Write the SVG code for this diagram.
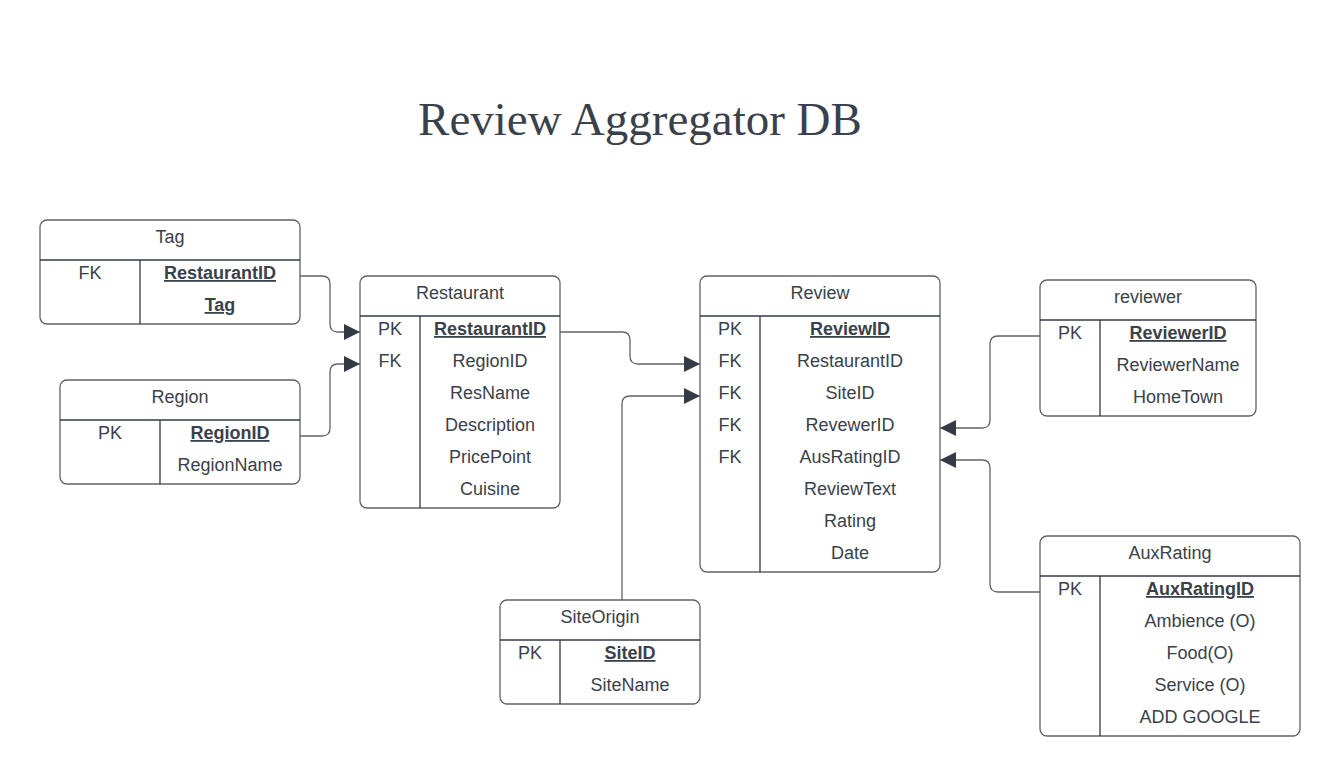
<svg xmlns="http://www.w3.org/2000/svg" width="1340" height="776" viewBox="0 0 1340 776">
<defs>
<style>
.box{fill:#fff;stroke:#5f6368;stroke-width:1.3}
.ln{stroke:#333a45;stroke-width:1.3;fill:none}
.t{font-family:"Liberation Sans",Arial,sans-serif;font-size:18px;fill:#3a414a;text-anchor:middle}
.b{font-weight:bold;text-decoration:underline}
.con{fill:none;stroke:#5f6368;stroke-width:1.3}
.title{font-family:"Liberation Serif","Times New Roman",serif;font-size:47px;fill:#3a414a;text-anchor:middle}
</style>
<marker id="arr" markerUnits="userSpaceOnUse" markerWidth="16" markerHeight="16" viewBox="0 0 16 16" refX="16" refY="8" orient="auto">
<path d="M0,0 L16,8 L0,16 Z" fill="#333a45"/>
</marker>
</defs>
<rect width="1340" height="776" fill="#fff"/>
<text class="title" x="640" y="135">Review Aggregator DB</text>

<g id="connectors">
<path class="con" marker-end="url(#arr)" d="M300,276 H322 Q330,276 330,284 V324 Q330,332 338,332 H360"/>
<path class="con" marker-end="url(#arr)" d="M300,436 H322 Q330,436 330,428 V372 Q330,364 338,364 H360"/>
<path class="con" marker-end="url(#arr)" d="M560,332 H622 Q630,332 630,340 V356 Q630,364 638,364 H700"/>
<path class="con" marker-end="url(#arr)" d="M622,600 V404 Q622,396 630,396 H700"/>
<path class="con" marker-end="url(#arr)" d="M1040,336 H998 Q990,336 990,344 V420 Q990,428 982,428 H940"/>
<path class="con" marker-end="url(#arr)" d="M1040,592 H998 Q990,592 990,584 V468 Q990,460 982,460 H940"/>
</g>

<g id="tag">
<rect class="box" x="40" y="220" width="260" height="104" rx="7"/>
<path class="ln" d="M40,260 H300 M140,260 V324"/>
<text class="t" x="170" y="243">Tag</text>
<text class="t" x="90" y="279">FK</text>
<text class="t b" x="220" y="279">RestaurantID</text>
<text class="t b" x="220" y="311">Tag</text>
</g>

<g id="region">
<rect class="box" x="60" y="380" width="240" height="104" rx="7"/>
<path class="ln" d="M60,420 H300 M160,420 V484"/>
<text class="t" x="180" y="403">Region</text>
<text class="t" x="110" y="439">PK</text>
<text class="t b" x="230" y="439">RegionID</text>
<text class="t" x="230" y="471">RegionName</text>
</g>

<g id="restaurant">
<rect class="box" x="360" y="276" width="200" height="232" rx="7"/>
<path class="ln" d="M360,316 H560 M420,316 V508"/>
<text class="t" x="460" y="299">Restaurant</text>
<text class="t" x="390" y="335">PK</text>
<text class="t" x="390" y="367">FK</text>
<text class="t b" x="490" y="335">RestaurantID</text>
<text class="t" x="490" y="367">RegionID</text>
<text class="t" x="490" y="399">ResName</text>
<text class="t" x="490" y="431">Description</text>
<text class="t" x="490" y="463">PricePoint</text>
<text class="t" x="490" y="495">Cuisine</text>
</g>

<g id="review">
<rect class="box" x="700" y="276" width="240" height="296" rx="7"/>
<path class="ln" d="M700,316 H940 M760,316 V572"/>
<text class="t" x="820" y="299">Review</text>
<text class="t" x="730" y="335">PK</text>
<text class="t" x="730" y="367">FK</text>
<text class="t" x="730" y="399">FK</text>
<text class="t" x="730" y="431">FK</text>
<text class="t" x="730" y="463">FK</text>
<text class="t b" x="850" y="335">ReviewID</text>
<text class="t" x="850" y="367">RestaurantID</text>
<text class="t" x="850" y="399">SiteID</text>
<text class="t" x="850" y="431">RevewerID</text>
<text class="t" x="850" y="463">AusRatingID</text>
<text class="t" x="850" y="495">ReviewText</text>
<text class="t" x="850" y="527">Rating</text>
<text class="t" x="850" y="559">Date</text>
</g>

<g id="reviewer">
<rect class="box" x="1040" y="280" width="216" height="136" rx="7"/>
<path class="ln" d="M1040,320 H1256 M1100,320 V416"/>
<text class="t" x="1148" y="303">reviewer</text>
<text class="t" x="1070" y="339">PK</text>
<text class="t b" x="1178" y="339">ReviewerID</text>
<text class="t" x="1178" y="371">ReviewerName</text>
<text class="t" x="1178" y="403">HomeTown</text>
</g>

<g id="siteorigin">
<rect class="box" x="500" y="600" width="200" height="104" rx="7"/>
<path class="ln" d="M500,640 H700 M560,640 V704"/>
<text class="t" x="600" y="623">SiteOrigin</text>
<text class="t" x="530" y="659">PK</text>
<text class="t b" x="630" y="659">SiteID</text>
<text class="t" x="630" y="691">SiteName</text>
</g>

<g id="auxrating">
<rect class="box" x="1040" y="536" width="260" height="200" rx="7"/>
<path class="ln" d="M1040,576 H1300 M1100,576 V736"/>
<text class="t" x="1170" y="559">AuxRating</text>
<text class="t" x="1070" y="595">PK</text>
<text class="t b" x="1200" y="595">AuxRatingID</text>
<text class="t" x="1200" y="627">Ambience (O)</text>
<text class="t" x="1200" y="659">Food(O)</text>
<text class="t" x="1200" y="691">Service (O)</text>
<text class="t" x="1200" y="723">ADD GOOGLE</text>
</g>
</svg>
